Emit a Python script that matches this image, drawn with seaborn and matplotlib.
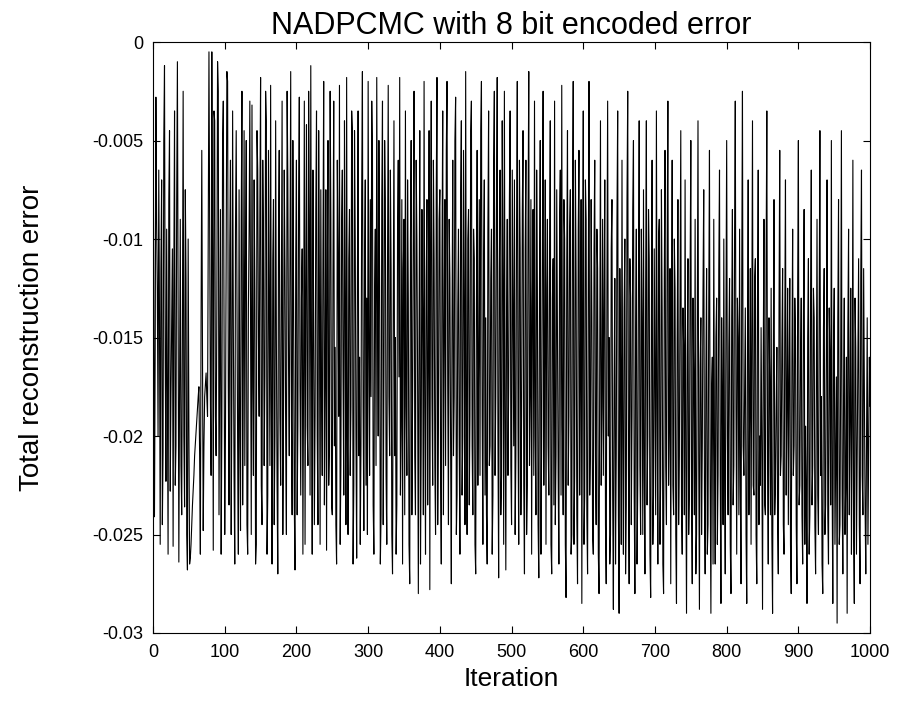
import numpy as np
import pandas as pd
import matplotlib
matplotlib.use("Agg")
import matplotlib.pyplot as plt
import seaborn as sns

# Total reconstruction error (units of 1e-3), read approximately at even iterations 0,2,...,1000
err_even_milli = [
    -0.5, -24.1, -2.8, -12.5, -6.5, -25.5, -7.0, -20.8, -1.2, -22.3, -17.6, -8.0, -22.8, -14.0, -25.6, -3.5, -20.5, -1.0, -26.4, -9.0,
    -24.0, -2.5, -23.6, -12.0, -26.8, -19.5, -26.2, -24.5, -22.8, -21.0, -19.8, -18.6, -17.5, -26.0, -5.5, -24.8, -18.0, -16.8, -19.0, -0.5,
    -18.2, -0.5, -25.8, -4.0, -21.0, -1.0, -24.0, -8.5, -19.5, -3.0, -25.0, -11.0, -2.0, -23.5, -6.0, -18.0, -14.5, -26.5, -4.5, -20.5,
    -7.5, -24.8, -2.5, -16.0, -21.5, -5.0, -26.0, -9.5, -14.0, -3.2, -22.0, -12.5, -25.5, -6.5, -19.0, -1.8, -24.5, -10.0, -17.0, -4.0,
    -23.0, -13.5, -2.2, -26.5, -8.0, -20.0, -15.0, -27.0, -5.5, -22.5, -3.0, -18.5, -11.5, -25.0, -7.0, -21.0, -1.5, -24.0, -13.0, -26.8,
    -6.0, -19.5, -2.8, -23.0, -10.5, -16.5, -25.5, -4.2, -21.5, -8.8, -1.2, -26.0, -14.5, -19.0, -3.5, -24.5, -12.0, -7.5, -22.0, -2.0,
    -17.5, -25.8, -5.0, -20.5, -9.0, -24.0, -3.0, -15.5, -26.5, -11.0, -2.2, -21.5, -6.5, -23.0, -13.5, -1.8, -25.0, -8.5, -18.5, -4.5,
    -22.5, -10.0, -26.2, -3.5, -16.0, -20.5, -1.5, -24.8, -7.0, -13.0, -2.0, -22.0, -18.0, -5.5, -26.0, -9.5, -1.8, -20.0, -12.5, -24.0,
    -3.0, -17.0, -8.0, -25.5, -2.2, -21.0, -11.5, -27.0, -4.0, -15.0, -23.5, -6.0, -1.8, -19.5, -26.5, -9.0, -3.5, -22.0, -13.0, -27.5,
    -5.0, -18.0, -2.5, -24.0, -10.0, -28.0, -4.5, -20.5, -14.0, -2.0, -26.0, -8.0, -16.5, -27.8, -3.0, -22.5, -11.0, -25.0, -1.8, -19.0,
    -7.5, -26.5, -3.5, -15.0, -21.5, -2.0, -24.5, -12.0, -27.5, -6.0, -18.0, -2.8, -23.0, -9.5, -26.0, -4.0, -20.0, -13.5, -1.5, -25.0,
    -8.5, -19.0, -3.0, -24.0, -11.0, -27.0, -5.5, -16.5, -22.0, -2.0, -25.5, -7.0, -14.0, -26.5, -3.5, -20.5, -9.5, -23.0, -2.5, -18.0,
    -1.8, -27.2, -6.5, -22.0, -12.0, -2.5, -26.8, -9.0, -17.5, -3.5, -24.5, -13.0, -7.0, -21.0, -2.0, -25.5, -10.5, -19.0, -4.5, -27.0,
    -6.0, -22.5, -1.5, -18.0, -26.0, -8.5, -3.0, -24.0, -12.5, -27.2, -5.0, -20.0, -2.5, -16.0, -25.5, -9.0, -23.0, -4.0, -27.0, -11.0,
    -3.0, -21.0, -14.5, -26.5, -6.5, -2.2, -24.0, -10.0, -28.2, -4.5, -19.0, -7.5, -25.0, -2.0, -22.0, -12.0, -27.5, -5.5, -17.0, -28.5,
    -3.5, -23.0, -9.0, -27.0, -2.0, -20.5, -14.0, -26.0, -6.0, -24.5, -11.5, -28.0, -4.0, -18.5, -22.0, -7.0, -27.5, -3.0, -15.0, -25.0,
    -8.0, -28.8, -12.0, -21.0, -3.5, -29.0, -16.5, -6.0, -26.0, -10.0, -23.5, -2.5, -27.5, -13.0, -19.0, -5.0, -28.0, -9.5, -22.5, -4.0,
    -25.0, -14.0, -7.5, -27.0, -4.0, -20.0, -11.0, -28.2, -6.0, -23.0, -17.0, -3.5, -26.5, -9.0, -22.0, -13.5, -28.0, -5.5, -24.5, -3.0,
    -19.5, -27.5, -6.0, -24.0, -12.5, -28.5, -8.0, -21.0, -4.5, -26.0, -15.5, -7.0, -29.0, -11.0, -23.0, -5.0, -27.5, -17.0, -9.0, -25.0,
    -4.0, -28.8, -14.0, -20.5, -7.5, -27.0, -11.5, -24.5, -5.5, -29.0, -16.0, -9.0, -26.5, -13.0, -22.0, -6.5, -28.5, -18.0, -10.0, -27.0,
    -5.0, -24.0, -12.0, -28.0, -8.5, -21.5, -3.0, -26.0, -15.0, -9.5, -27.5, -2.5, -22.0, -13.5, -28.5, -7.0, -19.0, -25.5, -4.0, -23.0,
    -11.0, -27.5, -6.5, -20.0, -14.5, -28.8, -9.0, -24.0, -3.5, -26.5, -17.0, -12.5, -29.0, -8.0, -22.5, -15.5, -27.0, -5.5, -21.0, -11.5,
    -26.0, -7.0, -18.5, -24.5, -12.0, -28.0, -9.5, -20.5, -15.0, -27.5, -5.0, -22.5, -13.0, -26.5, -8.5, -19.5, -28.5, -11.0, -24.0, -6.5,
    -21.5, -14.0, -27.0, -9.0, -25.0, -4.5, -18.0, -28.0, -11.5, -23.5, -7.0, -26.5, -16.0, -5.0, -28.5, -12.5, -21.0, -29.5, -8.0, -24.5,
    -4.5, -27.0, -13.0, -22.5, -29.0, -9.5, -19.0, -26.0, -6.0, -28.5, -15.5, -21.0, -11.0, -27.5, -6.5, -24.0, -17.5, -27.0, -14.0, -21.0,
    -18.5,
]

# Total reconstruction error (units of 1e-3), read approximately at odd iterations 1,3,...,999
err_odd_milli = [
    -12.0, -15.5, -9.0, -20.0, -14.0, -11.5, -24.5, -5.0, -16.0, -9.5, -26.0, -4.5, -18.0, -10.5, -12.0, -22.5, -8.0, -14.5, -17.0, -21.5,
    -14.5, -20.0, -7.5, -25.0, -10.0, -26.5, -25.5, -23.5, -22.0, -20.4, -19.2, -18.0, -21.0, -14.0, -16.0, -20.5, -17.4, -18.0, -9.0, -10.0,
    -22.0, -10.5, -3.5, -19.0, -13.5, -2.5, -16.0, -26.0, -5.0, -13.5, -20.0, -1.5, -17.5, -10.5, -25.0, -3.5, -22.0, -9.5, -13.0, -26.0,
    -20.0, -9.0, -23.5, -4.5, -11.0, -24.5, -13.5, -3.0, -25.0, -17.5, -7.0, -26.5, -4.5, -15.0, -8.5, -22.5, -6.0, -21.5, -2.5, -26.0,
    -5.5, -21.5, -18.0, -11.0, -24.5, -4.0, -22.5, -9.5, -19.0, -12.0, -25.0, -6.5, -20.0, -2.5, -16.5, -10.5, -19.0, -5.0, -23.5, -11.0,
    -24.0, -8.0, -17.5, -13.0, -26.0, -3.0, -12.5, -19.5, -2.5, -23.0, -16.0, -6.5, -24.5, -8.5, -20.0, -4.5, -25.5, -18.0, -10.5, -23.5,
    -7.5, -12.0, -22.5, -2.5, -23.5, -11.5, -20.5, -24.5, -6.0, -19.0, -25.5, -9.0, -17.0, -4.0, -24.5, -20.0, -11.0, -22.0, -3.5, -26.5,
    -4.5, -20.0, -12.5, -21.0, -25.5, -7.5, -18.5, -11.0, -22.5, -25.0, -15.5, -8.0, -3.0, -23.5, -12.5, -21.5, -13.0, -5.0, -26.5, -8.0,
    -24.5, -5.0, -22.0, -11.5, -18.0, -6.5, -25.0, -14.0, -21.0, -26.0, -9.5, -17.0, -23.0, -8.0, -11.5, -24.0, -18.5, -7.0, -25.5, -10.0,
    -24.0, -9.5, -21.0, -6.0, -17.5, -15.0, -26.5, -8.5, -24.0, -18.5, -12.0, -23.5, -4.5, -10.5, -18.0, -6.0, -21.5, -7.5, -24.5, -9.0,
    -22.0, -11.0, -24.0, -8.0, -5.5, -17.5, -9.0, -20.5, -14.0, -21.0, -5.0, -25.0, -13.5, -20.5, -7.5, -23.0, -5.5, -24.5, -18.0, -10.0,
    -23.5, -4.5, -20.5, -9.5, -25.5, -13.5, -22.5, -8.0, -4.5, -19.0, -11.0, -23.0, -24.0, -9.5, -21.5, -12.0, -26.0, -6.0, -22.0, -8.5,
    -20.0, -11.5, -24.0, -4.0, -25.5, -19.0, -14.0, -22.0, -8.0, -21.5, -6.5, -20.5, -25.0, -9.0, -19.5, -6.0, -24.0, -8.5, -22.5, -10.5,
    -25.0, -9.0, -21.5, -8.0, -13.5, -22.0, -20.0, -6.5, -24.5, -12.0, -26.0, -10.5, -22.5, -7.0, -12.5, -20.5, -11.0, -25.5, -13.0, -23.5,
    -24.5, -7.5, -22.0, -9.0, -23.0, -19.5, -8.0, -25.5, -11.0, -22.5, -9.5, -26.0, -8.5, -25.5, -6.0, -24.0, -9.5, -23.0, -8.0, -13.5,
    -25.5, -7.0, -24.0, -12.5, -23.0, -8.0, -25.0, -10.5, -21.0, -9.5, -26.0, -16.5, -22.5, -9.0, -13.5, -24.5, -12.5, -20.0, -26.5, -10.5,
    -23.0, -17.5, -26.5, -9.0, -24.0, -11.5, -25.5, -20.5, -13.5, -27.0, -8.0, -21.5, -11.0, -24.5, -8.5, -23.0, -14.5, -26.5, -12.0, -21.5,
    -9.5, -25.0, -22.0, -12.5, -23.5, -8.5, -26.0, -14.5, -25.5, -10.5, -24.0, -18.5, -10.0, -25.5, -7.5, -26.5, -12.0, -21.5, -10.5, -22.5,
    -11.5, -14.0, -22.5, -10.0, -25.0, -15.0, -24.5, -12.5, -23.5, -13.5, -24.0, -21.5, -16.0, -25.0, -12.0, -23.5, -13.0, -24.0, -27.0, -14.5,
    -21.0, -16.5, -25.0, -12.5, -23.0, -17.0, -26.0, -13.5, -22.5, -17.5, -26.5, -21.0, -15.0, -25.5, -11.5, -22.0, -14.0, -24.5, -21.5, -14.0,
    -20.0, -15.5, -25.5, -14.0, -23.5, -10.0, -18.5, -13.0, -24.0, -22.5, -12.0, -20.5, -17.5, -25.0, -15.5, -24.0, -11.5, -14.0, -22.5, -12.0,
    -25.0, -13.0, -24.5, -22.5, -20.5, -16.0, -23.5, -11.0, -21.5, -14.0, -24.0, -25.0, -16.5, -24.0, -18.5, -24.5, -13.5, -22.0, -15.5, -24.5,
    -14.5, -23.0, -12.5, -17.0, -25.5, -16.0, -22.0, -13.0, -24.5, -12.5, -23.5, -16.0, -24.0, -14.0, -25.5, -22.5, -15.0, -26.0, -13.0, -23.5,
    -12.5, -24.5, -18.0, -23.0, -13.5, -22.0, -26.5, -14.5, -25.0, -16.0, -24.0, -13.5, -23.5, -22.0, -15.5, -25.5, -17.0, -14.0, -25.5, -16.5,
    -23.0, -18.0, -25.0, -16.0, -14.5, -24.0, -12.5, -19.5, -25.0, -13.0, -26.0, -16.5, -24.5, -12.0, -22.0, -11.5, -23.5, -20.0, -25.5, -16.0,
]

x_ticks = [0, 100, 200, 300, 400, 500, 600, 700, 800, 900, 1000]
y_ticks = [0, -0.005, -0.01, -0.015, -0.02, -0.025, -0.03]
y_tick_labels = ["0", "-0.005", "-0.01", "-0.015", "-0.02", "-0.025", "-0.03"]

it_even = np.arange(0, 2 * len(err_even_milli), 2)
it_odd = np.arange(1, 2 * len(err_odd_milli), 2)
df = pd.DataFrame({
    "Iteration": np.concatenate([it_even, it_odd]),
    "Error": np.concatenate([err_even_milli, err_odd_milli]) / 1000.0,
}).sort_values("Iteration").reset_index(drop=True)

sns.set_style("white")
plt.rcParams["font.family"] = ["Liberation Sans", "DejaVu Sans"]
plt.rcParams["text.color"] = "black"
plt.rcParams["axes.labelcolor"] = "black"

fig = plt.figure(figsize=(8.97, 7.06), dpi=100)
ax = fig.add_axes([0.1706, 0.1034, 0.7994, 0.8371])

sns.lineplot(data=df, x="Iteration", y="Error", color="black", linewidth=0.8,
             ax=ax, sort=True, estimator=None)

ax.set_xlim(0, 1000)
ax.set_ylim(-0.03, 0)
ax.set_xticks(x_ticks)
ax.set_xticklabels([str(t) for t in x_ticks], fontsize=13)
ax.set_yticks(y_ticks)
ax.set_yticklabels(y_tick_labels, fontsize=13)
ax.tick_params(direction="in", length=5, width=0.8, top=True, right=True,
               bottom=True, left=True, colors="black")
ax.tick_params(axis="x", pad=8)
ax.tick_params(axis="y", pad=7)
for s in ax.spines.values():
    s.set_color("black")
    s.set_linewidth(0.8)

ax.set_xlabel("Iteration", fontsize=19, labelpad=4, color="black")
ax.set_ylabel("Total reconstruction error", fontsize=20, labelpad=34, color="black")
ax.set_title("NADPCMC with 8 bit encoded error", fontsize=22, pad=6, color="black")

fig.savefig("out.png", dpi=100, facecolor="white")
